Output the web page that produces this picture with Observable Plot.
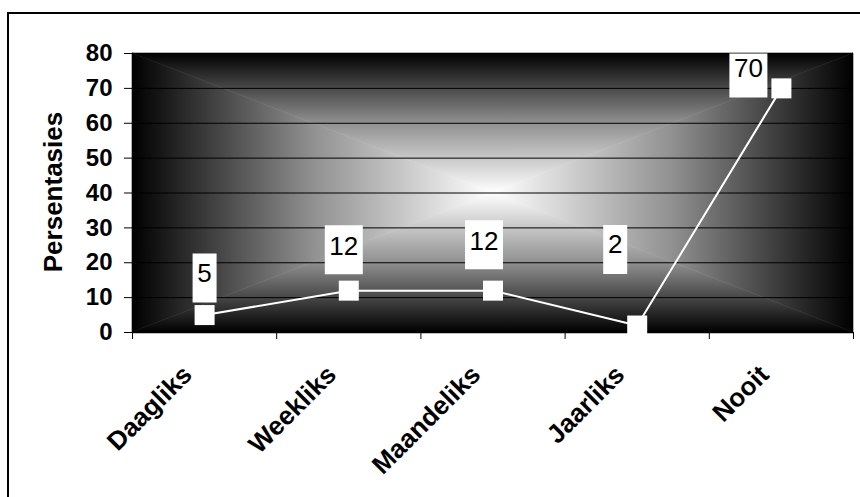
<!DOCTYPE html>
<html><head><meta charset="utf-8">
<script src="https://cdn.jsdelivr.net/npm/d3@7"></script>
<script src="https://cdn.jsdelivr.net/npm/@observablehq/plot@0.6"></script>
<style>
html,body{margin:0;padding:0;background:#fff;overflow:hidden;width:860px;height:497px}
#frame{position:absolute;left:7px;top:12px;width:900px;height:600px;border:2px solid #000;box-sizing:border-box}
#chart{position:absolute;left:0;top:0}
</style></head><body>
<div id="frame"></div>
<div id="chart"></div>
<script>
// ---- data ----
const categories = ["Daagliks", "Weekliks", "Maandeliks", "Jaarliks", "Nooit"];
const percentages = [5, 12, 12, 2, 70];
const valueLabels = ["5", "12", "12", "2", "70"];
const yTicks = [0, 10, 20, 30, 40, 50, 60, 70, 80];
const yTitle = "Persentasies";

const data = categories.map((c, i) => ({c, i, v: percentages[i], label: valueLabels[i]}));

// ---- layout (Excel-style manual label placement, pixels relative to the point) ----
// [box dx, box dy, box height, text dy relative to box centre]
const labelLayout = [[0, -37, 49, -4], [-5, -41, 49, -3], [-9, -46, 49, -3], [-22, -76, 49, -5], [-33, -13, 44, -7]];

const FONT = "'Liberation Sans', Arial, sans-serif";
const rectSymbol = (w, h) => ({draw(ctx) { ctx.rect(-w / 2, -h / 2, w, h); }});
const xc = d => d.i + 0.5;

function gradientBg(index, scales, values, dims) {
  const {width, height, marginLeft: ml, marginRight: mr, marginTop: mt, marginBottom: mb} = dims;
  const x0 = ml, x1 = width - mr, y0 = mt, y1 = height - mb, cx = (x0 + x1) / 2, cy = (y0 + y1) / 2;
  const g = d3.create("svg:g");
  const defs = g.append("defs");
  const parts = [
    ["gT", [cx, y0, cx, cy], [[x0, y0], [x1, y0], [cx, cy]]],
    ["gB", [cx, y1, cx, cy], [[x0, y1], [x1, y1], [cx, cy]]],
    ["gL", [x0, cy, cx, cy], [[x0, y0], [x0, y1], [cx, cy]]],
    ["gR", [x1, cy, cx, cy], [[x1, y0], [x1, y1], [cx, cy]]]
  ];
  for (const [id, [ax, ay, bx, by], pts] of parts) {
    const lg = defs.append("linearGradient").attr("id", id).attr("gradientUnits", "userSpaceOnUse")
      .attr("x1", ax).attr("y1", ay).attr("x2", bx).attr("y2", by);
    lg.append("stop").attr("offset", 0).attr("stop-color", "#000");
    lg.append("stop").attr("offset", 0.5).attr("stop-color", "#909090");
    lg.append("stop").attr("offset", 1).attr("stop-color", "#fff");
    g.append("polygon").attr("points", pts.map(p => p.join(",")).join(" "))
      .attr("fill", `url(#${id})`).attr("stroke", `url(#${id})`).attr("stroke-width", 0.6);
  }
  return g.node();
}

const labelMarks = data.flatMap((d, k) => {
  const [bx, by, bh, ty] = labelLayout[k];
  const bw = 10 + 14 * d.label.length;
  return [
    Plot.dot([d], {x: xc, y: "v", symbol: rectSymbol(bw, bh), fill: "white", stroke: "none", dx: bx, dy: by}),
    Plot.text([d], {x: xc, y: "v", text: "label", dx: bx, dy: by + ty, fontSize: 26, fill: "#000", lineAnchor: "middle"})
  ];
});

const plot = Plot.plot({
  width: 860, height: 497,
  marginLeft: 132, marginRight: 7, marginTop: 53, marginBottom: 165,
  style: {fontFamily: FONT, color: "#000", background: "transparent", overflow: "visible"},
  x: {type: "linear", domain: [0, 5]},
  y: {domain: [0, 80]},
  marks: [
    gradientBg,
    Plot.ruleY(yTicks.filter(t => t > 0), {stroke: "#000", strokeWidth: 1}),
    Plot.axisY({ticks: yTicks, tickSize: 8, tickPadding: 12, fontSize: 24, fontWeight: "bold", label: null}),
    Plot.axisX({ticks: [0, 1, 2, 3, 4, 5], tickSize: 7, tickFormat: () => "", label: null}),
    Plot.ruleY([0], {stroke: "#000", strokeWidth: 1.5}),
    Plot.ruleX([0], {stroke: "#000", strokeWidth: 1}),
    Plot.line(data, {x: xc, y: "v", stroke: "white", strokeWidth: 2}),
    Plot.dot(data, {x: xc, y: "v", symbol: rectSymbol(20, 20), fill: "white", stroke: "none"}),
    ...labelMarks,
    Plot.text(data, {x: xc, text: "c", frameAnchor: "bottom", rotate: -45, textAnchor: "end", lineAnchor: "middle",
      dx: -17, dy: 38, fontSize: 26, fontWeight: "bold", fill: "#000"}),
    Plot.text([yTitle], {frameAnchor: "left", rotate: -90, textAnchor: "middle", lineAnchor: "middle", dx: -79, dy: -1,
      fontSize: 26, fontWeight: "bold", fill: "#000"})
  ]
});
document.getElementById("chart").appendChild(plot);
</script>
</body></html>
